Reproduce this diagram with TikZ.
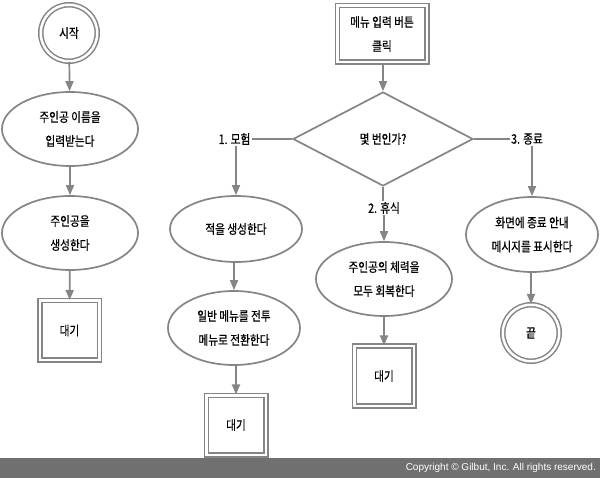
\documentclass[tikz,border=0pt]{standalone}
\usepackage{fontspec}
\setmainfont{Liberation Sans}
\newfontfamily\kr[FakeStretch=0.82,FakeBold=0.6]{Noto Sans CJK KR}
\usetikzlibrary{arrows.meta,shapes.geometric}
\definecolor{lc}{HTML}{858585}
\definecolor{barc}{HTML}{707070}
\begin{document}
\begin{tikzpicture}[x=1pt,y=-1pt,
  every node/.style={font=\kr\fontsize{13}{24}\selectfont, align=center, text=black},
  ell/.style={ellipse, draw=lc, line width=1.7pt, inner sep=0pt, minimum width=136pt, minimum height=74pt},
  dcirc/.style={circle, draw=lc, line width=1.5pt, double=white, double distance=2.5pt, inner sep=0pt, minimum size=56.5pt},
  dbox/.style={rectangle, draw=lc, line width=1.5pt, double=white, double distance=2.5pt, inner sep=0pt, minimum width=59.5pt, minimum height=59.5pt},
  dec/.style={diamond, draw=lc, line width=1.7pt, inner sep=0pt, minimum width=180pt, minimum height=94pt},
  lbl/.style={inner sep=1pt},
  arr/.style={draw=lc, line width=1.7pt, -{Triangle[width=8pt,length=10pt]}},
  ln/.style={draw=lc, line width=1.7pt}
]
\useasboundingbox (0,0) rectangle (600,478);
\fill[white] (0,0) rectangle (600,478);

% left column
\node[dcirc] (start) at (69,33) {시작};
\node[ell] (name) at (70,129) {주인공 이름을\\입력받는다};
\node[ell] (make) at (70,233) {주인공을\\생성한다};
\node[dbox] (wait1) at (69.5,330.5) {대기};
\draw[arr] (start) -- (name);
\draw[arr] (name) -- (make);
\draw[arr] (make) -- (wait1);

% top centre
\node[dbox, minimum width=89.5pt, minimum height=56.5pt] (menu) at (382,34) {메뉴 입력 버튼\\클릭};
\node[dec] (q) at (383,139) {몇 번인가?};
\draw[arr] (menu.south -| q.north) -- (q.north);

% branch 1
\node[lbl] (l1) at (234.5,139) {1. 모험};
\node[ell, minimum width=132pt, minimum height=66pt] (enemy) at (236,229) {적을 생성한다};
\node[ell, minimum width=132pt, minimum height=74pt] (battle) at (234,328) {일반 메뉴를 전투\\메뉴로 전환한다};
\node[dbox] (wait2) at (236,425) {대기};
\draw[ln] (q.west) -- (l1.east);
\draw[arr] (l1.south -| enemy.north) -- (enemy.north);
\draw[arr] (enemy.south -| battle.north) -- (battle.north);
\draw[arr] (battle.south -| wait2.north) -- (wait2.north);

% branch 2
\node[lbl] (l2) at (384,208) {2. 휴식};
\node[ell] (rest) at (384,279) {주인공의 체력을\\모두 회복한다};
\node[dbox] (wait3) at (384,376) {대기};
\draw[ln] (q.south) -- (l2.north -| q.south);
\draw[arr] (l2.south) -- (rest.north);
\draw[arr] (rest) -- (wait3);

% branch 3
\node[lbl] (l3) at (527,139) {3. 종료};
\node[ell, minimum width=132pt, minimum height=75pt] (msg) at (532,234.5) {화면에 종료 안내\\메시지를 표시한다};
\node[dcirc] (fin) at (531,333) {끝};
\draw[ln] (q.east) -- (l3.west);
\draw[arr] (l3.south -| msg.north) -- (msg.north);
\draw[arr] (msg.south -| fin.north) -- (fin.north);

% footer
\fill[barc] (0,458) rectangle (600,478);
\node[font=\rmfamily\fontsize{10}{12}\selectfont, text=white, anchor=east, inner sep=0pt] (copy) at (596,468) {Copyright © Gilbut, Inc. All rights reserved.};
\end{tikzpicture}
\end{document}
